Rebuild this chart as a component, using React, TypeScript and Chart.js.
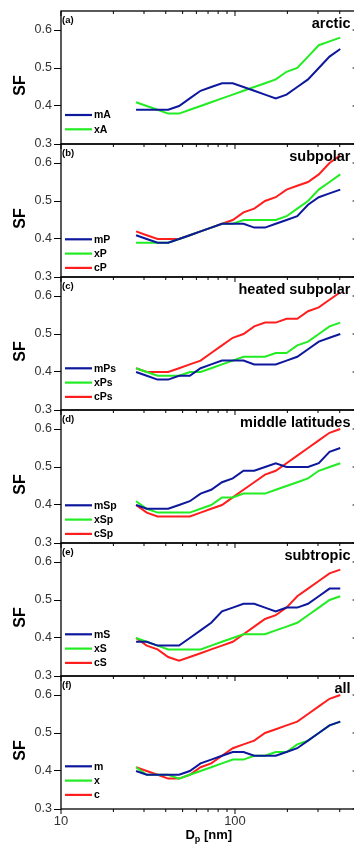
import React, { useEffect, useRef } from 'react';
import { Chart, registerables } from 'chart.js';

Chart.register(...registerables);

// particle diameter bins (nm)
const sizes = [27.0, 31.1, 35.9, 41.3, 47.7, 55.0, 63.4, 73.0, 84.2, 97.1, 111.9, 129.0, 148.8, 171.5, 197.8, 228.0, 262.9, 303.1, 349.4, 402.8];

// (a) arctic
const mA = [0.39, 0.39, 0.39, 0.39, 0.40, 0.42, 0.44, 0.45, 0.46, 0.46, 0.45, 0.44, 0.43, 0.42, 0.43, 0.45, 0.47, 0.50, 0.53, 0.55];
const xA = [0.41, 0.40, 0.39, 0.38, 0.38, 0.39, 0.40, 0.41, 0.42, 0.43, 0.44, 0.45, 0.46, 0.47, 0.49, 0.50, 0.53, 0.56, 0.57, 0.58];
// (b) subpolar
const mP = [0.41, 0.40, 0.39, 0.39, 0.40, 0.41, 0.42, 0.43, 0.44, 0.44, 0.44, 0.43, 0.43, 0.44, 0.45, 0.46, 0.49, 0.51, 0.52, 0.53];
const xP = [0.39, 0.39, 0.39, 0.39, 0.40, 0.41, 0.42, 0.43, 0.44, 0.44, 0.45, 0.45, 0.45, 0.45, 0.46, 0.48, 0.50, 0.53, 0.55, 0.57];
const cP = [0.42, 0.41, 0.40, 0.40, 0.40, 0.41, 0.42, 0.43, 0.44, 0.45, 0.47, 0.48, 0.50, 0.51, 0.53, 0.54, 0.55, 0.57, 0.60, 0.62];
// (c) heated subpolar
const mPs = [0.40, 0.39, 0.38, 0.38, 0.39, 0.39, 0.41, 0.42, 0.43, 0.43, 0.43, 0.42, 0.42, 0.42, 0.43, 0.44, 0.46, 0.48, 0.49, 0.50];
const xPs = [0.41, 0.40, 0.39, 0.39, 0.39, 0.40, 0.40, 0.41, 0.42, 0.43, 0.44, 0.44, 0.44, 0.45, 0.45, 0.47, 0.48, 0.50, 0.52, 0.53];
const cPs = [0.41, 0.40, 0.40, 0.40, 0.41, 0.42, 0.43, 0.45, 0.47, 0.49, 0.50, 0.52, 0.53, 0.53, 0.54, 0.54, 0.56, 0.57, 0.59, 0.61];
// (d) middle latitudes
const mSp = [0.40, 0.39, 0.39, 0.39, 0.40, 0.41, 0.43, 0.44, 0.46, 0.47, 0.49, 0.49, 0.50, 0.51, 0.50, 0.50, 0.50, 0.51, 0.54, 0.55];
const xSp = [0.41, 0.39, 0.38, 0.38, 0.38, 0.38, 0.39, 0.40, 0.42, 0.42, 0.43, 0.43, 0.43, 0.44, 0.45, 0.46, 0.47, 0.49, 0.50, 0.51];
const cSp = [0.40, 0.38, 0.37, 0.37, 0.37, 0.37, 0.38, 0.39, 0.40, 0.42, 0.44, 0.46, 0.48, 0.49, 0.51, 0.53, 0.55, 0.57, 0.59, 0.60];
// (e) subtropic
const mS = [0.39, 0.39, 0.38, 0.38, 0.38, 0.40, 0.42, 0.44, 0.47, 0.48, 0.49, 0.49, 0.48, 0.47, 0.48, 0.48, 0.49, 0.51, 0.53, 0.53];
const xS = [0.40, 0.39, 0.38, 0.37, 0.37, 0.37, 0.37, 0.38, 0.39, 0.40, 0.41, 0.41, 0.41, 0.42, 0.43, 0.44, 0.46, 0.48, 0.50, 0.51];
const cS = [0.40, 0.38, 0.37, 0.35, 0.34, 0.35, 0.36, 0.37, 0.38, 0.39, 0.41, 0.43, 0.45, 0.46, 0.48, 0.51, 0.53, 0.55, 0.57, 0.58];
// (f) all
const mAll = [0.40, 0.39, 0.39, 0.39, 0.39, 0.40, 0.42, 0.43, 0.44, 0.45, 0.45, 0.44, 0.44, 0.44, 0.45, 0.46, 0.48, 0.50, 0.52, 0.53];
const xAll = [0.41, 0.39, 0.39, 0.39, 0.38, 0.39, 0.40, 0.41, 0.42, 0.43, 0.43, 0.44, 0.44, 0.45, 0.45, 0.47, 0.48, 0.50, 0.52, 0.53];
const cAll = [0.41, 0.40, 0.39, 0.38, 0.38, 0.39, 0.41, 0.42, 0.44, 0.46, 0.47, 0.48, 0.50, 0.51, 0.52, 0.53, 0.55, 0.57, 0.59, 0.60];

const yTickValues = [0.3, 0.4, 0.5, 0.6];
const xLabelValues = [10, 100];
const xMajorTicks = [10, 100];
const xMinorTicks = [20, 30, 40, 50, 60, 70, 80, 90, 200, 300, 400];
const xAxisTitleMain = 'D';
const xAxisTitleSub = 'p';
const xAxisTitleRest = ' [nm]';
const yAxisTitle = 'SF';

const BLUE = '#0d189c';
const GREEN = '#22ec22';
const RED = '#ff1e1e';

type Series = { label: string; values: number[]; color: string };
type PanelDef = { letter: string; title: string; series: Series[]; legendOffset: number };

const panels: PanelDef[] = [
  { letter: '(a)', title: 'arctic', legendOffset: 104, series: [
    { label: 'mA', values: mA, color: BLUE }, { label: 'xA', values: xA, color: GREEN }] },
  { letter: '(b)', title: 'subpolar', legendOffset: 95.3, series: [
    { label: 'mP', values: mP, color: BLUE }, { label: 'xP', values: xP, color: GREEN }, { label: 'cP', values: cP, color: RED }] },
  { letter: '(c)', title: 'heated subpolar', legendOffset: 91.3, series: [
    { label: 'mPs', values: mPs, color: BLUE }, { label: 'xPs', values: xPs, color: GREEN }, { label: 'cPs', values: cPs, color: RED }] },
  { letter: '(d)', title: 'middle latitudes', legendOffset: 95.3, series: [
    { label: 'mSp', values: mSp, color: BLUE }, { label: 'xSp', values: xSp, color: GREEN }, { label: 'cSp', values: cSp, color: RED }] },
  { letter: '(e)', title: 'subtropic', legendOffset: 91.3, series: [
    { label: 'mS', values: mS, color: BLUE }, { label: 'xS', values: xS, color: GREEN }, { label: 'cS', values: cS, color: RED }] },
  { letter: '(f)', title: 'all', legendOffset: 90.3, series: [
    { label: 'm', values: mAll, color: BLUE }, { label: 'x', values: xAll, color: GREEN }, { label: 'c', values: cAll, color: RED }] },
];

const FONT = '"Liberation Sans", Arial, Helvetica, sans-serif';
const CANVAS_W = 364;
const PANEL_H = 133;
const FIRST_TOP = 11;
const PAD = 12;
const BOTTOM_AXIS_H = 50;

function Panel({ def, index, isBottom }: { def: PanelDef; index: number; isBottom: boolean }) {
  const ref = useRef<HTMLCanvasElement>(null);
  const canvasH = isBottom ? PAD + PANEL_H + BOTTOM_AXIS_H : PAD + PANEL_H + PAD;
  const canvasTop = FIRST_TOP + index * PANEL_H - PAD;

  useEffect(() => {
    const decor = {
      id: 'panelDecor',
      afterDraw(chart: any) {
        const { ctx, chartArea: a, scales } = chart;
        const xs = scales.x;
        const ys = scales.y;
        const line = (x1: number, y1: number, x2: number, y2: number) => {
          ctx.beginPath();
          ctx.moveTo(x1, y1);
          ctx.lineTo(x2, y2);
          ctx.stroke();
        };
        ctx.save();
        ctx.strokeStyle = '#000';
        ctx.lineWidth = 1.3;
        ctx.strokeRect(a.left, a.top, a.right - a.left, a.bottom - a.top);
        ctx.lineWidth = 1;
        for (const v of xMinorTicks) {
          const px = xs.getPixelForValue(v);
          line(px, a.top, px, a.top + 3);
          if (isBottom) line(px, a.bottom, px, a.bottom + 3);
        }
        for (const v of xMajorTicks) {
          const px = xs.getPixelForValue(v);
          line(px, a.top, px, a.top + 5);
          if (isBottom) line(px, a.bottom, px, a.bottom + 5);
        }
        for (const v of yTickValues) {
          const py = ys.getPixelForValue(v);
          line(a.right - 4, py, a.right, py);
        }
        // panel letter
        ctx.fillStyle = '#000';
        ctx.font = `bold 9.5px ${FONT}`;
        ctx.textAlign = 'left';
        ctx.textBaseline = 'alphabetic';
        ctx.fillText(def.letter, a.left + 1, a.top + 12);
        // panel title
        ctx.font = `bold 14.5px ${FONT}`;
        ctx.textAlign = 'right';
        ctx.fillText(def.title, 350.5, a.top + 16.8);
        // legend
        ctx.font = `bold 10.5px ${FONT}`;
        ctx.textAlign = 'left';
        ctx.textBaseline = 'middle';
        chart.data.datasets.forEach((ds: any, i: number) => {
          const yy = a.top + def.legendOffset + i * 14.3;
          ctx.strokeStyle = ds.borderColor;
          ctx.lineWidth = 2.2;
          line(65, yy, 92, yy);
          ctx.fillStyle = '#000';
          ctx.fillText(ds.label, 94, yy + 0.5);
        });
        // y title
        ctx.save();
        ctx.translate(21, a.top + 74.5);
        ctx.rotate(-Math.PI / 2);
        ctx.font = `bold 16px ${FONT}`;
        ctx.textAlign = 'center';
        ctx.textBaseline = 'middle';
        ctx.fillStyle = '#000';
        ctx.fillText(yAxisTitle, 0, 0);
        ctx.restore();
        // x title
        if (isBottom) {
          const big = `bold 13px ${FONT}`;
          const small = `bold 9px ${FONT}`;
          ctx.font = big;
          const wD = ctx.measureText(xAxisTitleMain).width;
          const wR = ctx.measureText(xAxisTitleRest).width;
          ctx.font = small;
          const wS = ctx.measureText(xAxisTitleSub).width;
          const total = wD + wS + wR;
          let x0 = (a.left + a.right) / 2 - total / 2;
          const base = a.bottom + 29.5;
          ctx.textAlign = 'left';
          ctx.textBaseline = 'alphabetic';
          ctx.font = big;
          ctx.fillText(xAxisTitleMain, x0, base);
          x0 += wD;
          ctx.font = small;
          ctx.fillText(xAxisTitleSub, x0, base + 3);
          x0 += wS;
          ctx.font = big;
          ctx.fillText(xAxisTitleRest, x0, base);
        }
        ctx.restore();
      },
    };

    const chart = new Chart(ref.current as HTMLCanvasElement, {
      type: 'line',
      data: {
        datasets: def.series.map((s) => ({
          label: s.label,
          data: sizes.map((x, i) => ({ x, y: s.values[i] })),
          borderColor: s.color,
          backgroundColor: s.color,
          borderWidth: 2,
          pointRadius: 0,
          tension: 0,
          fill: false,
        })),
      },
      options: {
        responsive: false,
        animation: false,
        devicePixelRatio: 1,
        layout: { padding: { top: PAD, bottom: isBottom ? 0 : PAD, left: 0, right: CANVAS_W - 356.6 } },
        plugins: { legend: { display: false }, tooltip: { enabled: false } },
        scales: {
          x: {
            type: 'logarithmic',
            display: isBottom,
            min: 10,
            max: 500,
            afterFit: (scale: any) => { scale.height = isBottom ? BOTTOM_AXIS_H : 0; },
            afterBuildTicks: (scale: any) => { scale.ticks = xLabelValues.map((v) => ({ value: v, major: true })); },
            grid: { display: false, drawTicks: false },
            border: { display: false },
            ticks: {
              autoSkip: false,
              maxRotation: 0,
              padding: 5,
              color: '#333',
              font: { family: FONT, size: 13 },
              callback: (v: any) => String(v),
            },
          },
          y: {
            type: 'linear',
            min: 0.3,
            max: 0.65,
            afterFit: (scale: any) => { scale.width = 61; },
            afterBuildTicks: (scale: any) => { scale.ticks = yTickValues.map((v) => ({ value: v })); },
            grid: { display: true, drawOnChartArea: false, drawTicks: true, tickLength: 7, color: '#000', lineWidth: 1 },
            border: { display: false },
            ticks: {
              padding: 2,
              color: '#333',
              font: { family: FONT, size: 12.5 },
              callback: (v: any) => Number(v).toFixed(1),
            },
          },
        },
      } as any,
      plugins: [decor],
    });
    return () => chart.destroy();
  }, []);

  return (
    <canvas
      ref={ref}
      width={CANVAS_W}
      height={canvasH}
      style={{ position: 'absolute', left: 0, top: canvasTop, width: CANVAS_W, height: canvasH, display: 'block' }}
    />
  );
}

export default function App() {
  return (
    <div style={{ position: 'absolute', left: 0, top: 0, width: 354, height: 857, overflow: 'hidden', background: '#fff' }}>
      {panels.map((p, i) => (
        <Panel key={p.letter} def={p} index={i} isBottom={i === panels.length - 1} />
      ))}
    </div>
  );
}
